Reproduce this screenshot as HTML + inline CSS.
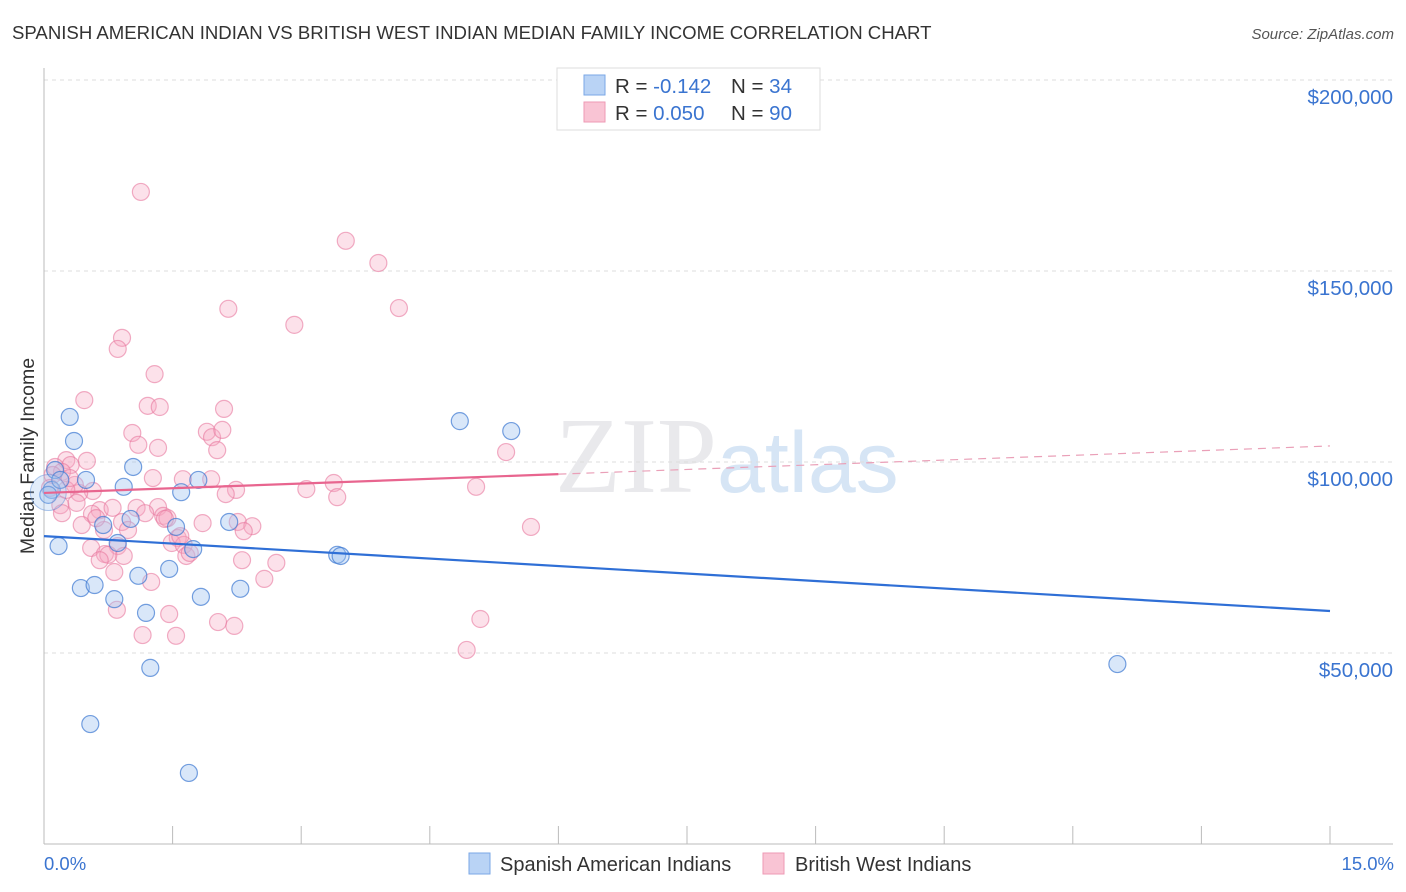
<!DOCTYPE html>
<html><head><meta charset="utf-8"><style>
body{margin:0;background:#fff;font-family:"Liberation Sans",sans-serif;}
#wrap{position:relative;width:1406px;height:892px;overflow:hidden}
</style></head><body>
<div id="wrap">
<svg id="svg" width="1406" height="892" xmlns="http://www.w3.org/2000/svg">
<text x="12" y="39" font-size="18.6" fill="#333">SPANISH AMERICAN INDIAN VS BRITISH WEST INDIAN MEDIAN FAMILY INCOME CORRELATION CHART</text>
<text x="1394" y="39" font-size="15" fill="#555" text-anchor="end" font-style="italic">Source: ZipAtlas.com</text>
<text x="0" y="0" transform="translate(34,456) rotate(-90)" font-size="19.5" fill="#333" text-anchor="middle">Median Family Income</text>
<text x="555" y="492" font-size="108" fill="#e9e9ec" font-family="Liberation Serif, serif">ZIP<tspan fill="#d6e5f5" font-family="Liberation Sans, sans-serif" font-size="86">atlas</tspan></text>
<g id="grid"></g><g id="pts"></g><g id="lines"></g>
<g>
<rect x="557" y="68" width="263" height="62" fill="#fff" stroke="#ddd"/>
<rect x="584" y="75" width="21" height="20" fill="#b9d3f5" stroke="#7aa7e6"/>
<rect x="584" y="102" width="21" height="20" fill="#f9c4d4" stroke="#ee9ab4"/>
<text x="615" y="93" font-size="20.5" fill="#333">R = <tspan fill="#3a74d0">-0.142</tspan><tspan x="731">N = </tspan><tspan fill="#3a74d0">34</tspan></text>
<text x="615" y="120" font-size="20.5" fill="#333">R = <tspan fill="#3a74d0">0.050</tspan><tspan x="731">N = </tspan><tspan fill="#3a74d0">90</tspan></text>
</g>
<g>
<rect x="469" y="853" width="21" height="21" fill="#b9d3f5" stroke="#7aa7e6"/>
<text x="500" y="871" font-size="20" fill="#333">Spanish American Indians</text>
<rect x="763" y="853" width="21" height="21" fill="#f9c4d4" stroke="#ee9ab4"/>
<text x="795" y="871" font-size="20" fill="#333">British West Indians</text>
</g>
<text x="44" y="870" font-size="18.5" fill="#3a74d0">0.0%</text>
<text x="1394" y="870" font-size="18.5" fill="#3a74d0" text-anchor="end">15.0%</text>
</svg></div>
<script>
const yTicks=[50000,100000,150000,200000];
const yTickLabels=["$50,000","$100,000","$150,000","$200,000"];
const blueX=[.30,.35,.09,.49,.17,.43,.59,.54,.93,1.04,1.01,.86,.69,.82,1.10,1.19,1.24,1.46,1.54,1.60,1.74,1.80,1.83,1.69,2.16,2.29,3.42,3.46,4.85,5.45,12.52,.13,.19,.05];
const blueY=[111.8,105.5,92.7,95.3,78.0,67.0,67.8,31.4,93.5,98.7,85.1,78.8,83.5,64.1,70.2,60.5,46.1,72.0,83.0,92.1,77.2,95.3,64.7,18.6,84.3,66.8,75.7,75.4,110.7,108.1,47.1,97.9,95.3,91.4];
const pinkX=[1.13,3.52,3.90,4.14,2.15,2.92,.91,.86,1.29,.47,1.21,1.35,2.10,1.03,1.90,1.96,1.10,1.33,2.02,5.39,.26,.50,.31,.13,.21,1.62,1.95,1.27,3.38,.57,2.24,3.06,5.04,2.12,3.42,.41,.19,.38,.65,.56,1.33,1.08,.80,1.18,1.39,1.44,.21,.44,.91,1.85,2.26,2.43,2.33,5.68,.70,1.56,1.49,1.63,.86,.55,.71,.93,.75,.65,1.66,1.70,2.31,2.71,.82,1.25,2.57,.85,1.46,2.03,2.22,5.09,1.15,1.54,4.93,.10,.07,.36,.26,.61,1.59,.98,2.08,.30,1.41];
const pinkY=[170.7,157.9,152.1,140.3,140.1,135.9,132.5,129.6,123.0,116.2,114.7,114.4,113.9,107.6,107.9,106.5,104.5,103.7,103.1,102.6,100.5,100.3,99.2,98.7,97.4,95.5,95.5,95.8,94.5,92.4,92.7,92.9,93.5,91.6,90.8,91.9,88.7,89.3,87.4,86.4,88.2,88.0,88.0,86.6,85.9,85.3,86.6,83.5,84.3,84.0,84.3,83.2,81.9,83.0,82.2,80.1,78.8,78.3,78.0,77.5,75.9,75.4,75.7,74.3,75.4,76.2,74.3,73.6,71.2,68.6,69.4,61.3,60.2,58.1,57.1,58.9,54.7,54.5,50.8,96.6,93.2,94.0,92.7,85.3,80.6,82.2,108.4,95.8,85.1];
const blueTrend=[80.6,61.0];
const pinkTrend=[91.9,104.2];
const pinkSolidEnd=6.0;
const NS="http://www.w3.org/2000/svg";
function sx(v){return 44+v*(1330-44)/15;}
function sy(k){return 844-k*3.82;}
function mk(tag,attrs,parent){const e=document.createElementNS(NS,tag);for(const k in attrs)e.setAttribute(k,attrs[k]);parent.appendChild(e);return e;}
const grid=document.getElementById('grid');
yTicks.forEach((t,i)=>{
 const y=sy(t/1000);
 const l=mk('line',{x1:44,x2:1393,y1:y,y2:y,stroke:'#ddd','stroke-dasharray':'4,4'},grid);
 
 
 const tx=mk('text',{x:1393,y:y+24,'font-size':20.5,fill:'#3a74d0','text-anchor':'end'},grid);
 tx.textContent=yTickLabels[i];
 
 
});
const ax=mk('line',{x1:44,x2:1393,y1:844,y2:844,stroke:'#bbb'},grid);


const ay=mk('line',{x1:44,x2:44,y1:68,y2:844,stroke:'#bbb'},grid);


for(let i=0;i<=10;i++){const x=sx(i*1.5);const t=mk('line',{x1:x,x2:x,y1:826,y2:844,stroke:'#bbb'},grid);
 
 }
const pts=document.getElementById('pts');
pinkX.forEach((x,i)=>{const c=mk('circle',{cx:sx(x),cy:sy(pinkY[i]),r:8.5,fill:'rgba(246,170,195,0.35)',stroke:'rgba(232,120,158,0.6)','stroke-width':1.2},pts);
 
 });
blueX.forEach((x,i)=>{const c=mk('circle',{cx:sx(x),cy:sy(blueY[i]),r:8.5,fill:'rgba(160,195,240,0.4)',stroke:'rgba(60,120,210,0.7)','stroke-width':1.2},pts);
 
 });
const big=mk('circle',{cx:sx(0.05),cy:sy(92),r:18,fill:'rgba(160,195,240,0.3)',stroke:'rgba(60,120,210,0.4)'},pts);


const lines=document.getElementById('lines');
const bl=mk('line',{x1:sx(0),y1:sy(blueTrend[0]),x2:sx(15),y2:sy(blueTrend[1]),stroke:'#2f6fd6','stroke-width':2.2},lines);


const pm=pinkTrend[0]+(pinkTrend[1]-pinkTrend[0])*pinkSolidEnd/15;
const pl=mk('line',{x1:sx(0),y1:sy(pinkTrend[0]),x2:sx(pinkSolidEnd),y2:sy(pm),stroke:'#e8658f','stroke-width':2.2},lines);


const pd=mk('line',{x1:sx(pinkSolidEnd),y1:sy(pm),x2:sx(15),y2:sy(pinkTrend[1]),stroke:'#eaa0b8','stroke-width':1.2,'stroke-dasharray':'8,6'},lines);


</script>
</body></html>
